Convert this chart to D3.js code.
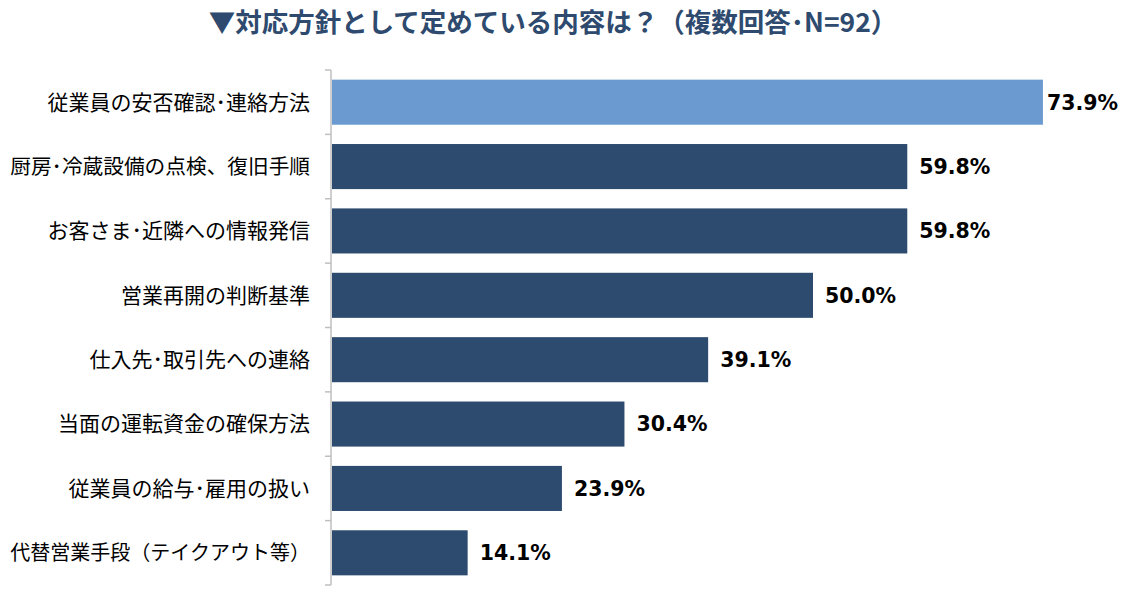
<!DOCTYPE html>
<html>
<head>
<meta charset="utf-8">
<script src="https://cdn.jsdelivr.net/npm/d3@7"></script>
<style>
body { margin: 0; background: #fff; }
</style>
</head>
<body>
<div id="chart"></div>
<script>
var categories = ["従業員の安否確認･連絡方法", "厨房･冷蔵設備の点検、復旧手順", "お客さま･近隣への情報発信",
  "営業再開の判断基準", "仕入先･取引先への連絡", "当面の運転資金の確保方法", "従業員の給与･雇用の扱い",
  "代替営業手段（テイクアウト等）"];
var values = [73.9, 59.8, 59.8, 50.0, 39.1, 30.4, 23.9, 14.1];
var title = "▼対応方針として定めている内容は？（複数回答･N=92）";

var w = 1124, h = 600;
var svg = d3.select("#chart").append("svg")
  .attr("width", w)
  .attr("height", h);

var x = d3.scaleLinear().domain([0, 100]).range([332, 1294]);
var y = d3.scaleBand().domain(categories).range([70, 585])
  .paddingInner(0.3).paddingOuter(0.15);

svg.append("text")
  .attr("x", 553).attr("y", 32)
  .attr("text-anchor", "middle")
  .style("font-family", "'Noto Sans CJK JP', sans-serif")
  .style("font-size", "26.5px").style("font-weight", "bold")
  .style("fill", "#2E4A6E")
  .text(title);

svg.selectAll("rect.bar")
  .data(values)
  .enter().append("rect")
    .attr("class", "bar")
    .attr("x", x(0))
    .attr("y", function(d, i) { return y(categories[i]); })
    .attr("width", function(d) { return x(d) - x(0); })
    .attr("height", y.bandwidth())
    .attr("fill", function(d, i) { return i == 0 ? "#6A9ACF" : "#2D4A6F"; });

// axis line with ticks between categories
var edges = categories.map(function(c) { return y(c) - y.step() * y.paddingInner() / 2; });
edges.push(y(categories[categories.length - 1]) + y.bandwidth() + y.step() * y.paddingInner() / 2);
svg.append("line")
  .attr("x1", 331).attr("x2", 331)
  .attr("y1", edges[0]).attr("y2", edges[edges.length - 1])
  .attr("stroke", "#BFBFBF").attr("stroke-width", 1.5);
svg.selectAll("line.tick")
  .data(edges)
  .enter().append("line")
    .attr("class", "tick")
    .attr("x1", 325).attr("x2", 331)
    .attr("y1", function(d) { return d; }).attr("y2", function(d) { return d; })
    .attr("stroke", "#BFBFBF").attr("stroke-width", 1.5);

svg.selectAll("text.cat")
  .data(categories)
  .enter().append("text")
    .attr("class", "cat")
    .attr("x", 310)
    .attr("y", function(d) { return y(d) + y.bandwidth() / 2; })
    .attr("dy", "0.35em")
    .attr("text-anchor", "end")
    .style("font-family", "'Noto Sans CJK JP', sans-serif")
    .style("font-size", "21px")
    .style("fill", "#000")
    .text(function(d) { return d; })
    .each(function() {
      // shrink a label that would run off the left edge
      var len = this.getComputedTextLength();
      if (len > 300) d3.select(this).style("font-size", (21 * 300 / len) + "px");
    });

svg.selectAll("text.val")
  .data(values)
  .enter().append("text")
    .attr("class", "val")
    .attr("x", function(d) { return Math.min(x(d) + 12, 1047); })
    .attr("y", function(d, i) { return y(categories[i]) + y.bandwidth() / 2; })
    .attr("dy", "0.36em")
    .style("font-family", "'DejaVu Sans', sans-serif")
    .style("font-size", "20.5px").style("font-weight", "bold")
    .style("fill", "#000")
    .text(function(d) { return d.toFixed(1) + "%"; });
</script>
</body>
</html>
